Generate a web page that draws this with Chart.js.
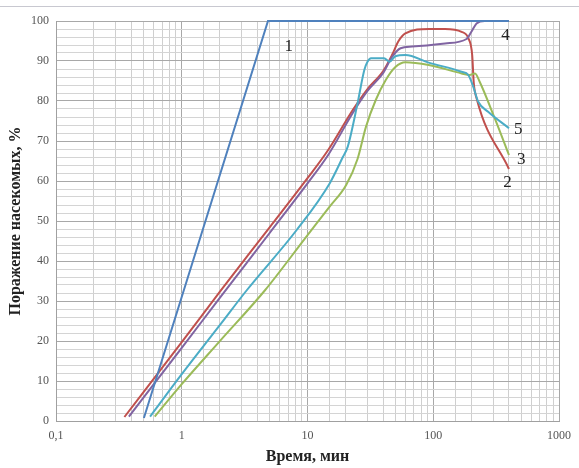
<!DOCTYPE html>
<html>
<head>
<meta charset="utf-8">
<script src="https://cdn.jsdelivr.net/npm/chart.js@4.4.0/dist/chart.umd.min.js"></script>
<style>
  body { margin: 0; background: #fff; }
  #wrap { position: relative; width: 579px; height: 468px; }
  #topline { position: absolute; left: 0; top: 6px; width: 579px; border-top: 1px solid #c8c8d0; }
</style>
</head>
<body>
<div id="wrap">
  <div id="topline"></div>
  <canvas id="chart" width="579" height="468"></canvas>
</div>
<script>
// time, min (log axis) and insect damage, %
const t1 = [0.5, 4.85, 400];
const v1 = [0.75, 100, 100];

const t2 = [0.35, 1, 2.04, 5, 10, 14.6, 22.9, 30, 40, 47, 53, 60, 92, 124, 168, 190, 204, 210, 221, 400];
const v2 = [1, 19.7, 32.6, 48.4, 60.7, 67.75, 77.75, 83, 87.5, 91.5, 95, 96.9, 98, 98, 97.3, 95.7, 91.5, 84.5, 80.7, 63];

const t3 = [0.61, 1, 2, 4.61, 9.8, 15, 20.3, 25, 29.2, 34.9, 41.9, 50, 60, 92, 168, 195, 215, 234, 308, 400];
const v3 = [1.1, 9.2, 19.9, 32.75, 46.1, 53.6, 59, 65.5, 73.6, 80.25, 85.25, 88.5, 89.7, 89, 86.9, 86.5, 86.9, 84.8, 75.7, 66.5];

const t4 = [0.38, 1, 2, 5, 10, 14.6, 22.9, 30, 40, 47, 55, 68, 124, 184, 201, 221, 257, 400];
const v4 = [1.1, 18.3, 30.7, 47, 59.4, 66.5, 77, 82.5, 87, 91, 93.2, 93.6, 94.4, 95.5, 97.3, 99.4, 100, 100];

const t5 = [0.56, 1, 2, 3.3, 8.2, 15, 19.1, 20.9, 25, 28.3, 30, 32, 40.6, 45, 50, 60, 92, 168, 190, 208, 228, 273, 400];
const v5 = [1.1, 11.7, 23.9, 32.75, 47.75, 59.4, 66, 68.6, 79.4, 87.75, 89.8, 90.7, 90.7, 89.8, 91.2, 91.5, 89.6, 87.3, 86.5, 83.6, 79.8, 77.3, 73.2];

// curve numbers, placed in data units near the line ends
const labelText = ['1', '2', '3', '4', '5'];
const labelX = [7.1, 390, 502, 376, 475];
const labelY = [93.5, 59.5, 65.25, 96.25, 72.75];

const colors = ['#4F81BD', '#C0504D', '#9BBB59', '#8064A2', '#4BACC6'];

function pts(xs, ys) {
    return xs.map((x, i) => ({ x: x, y: ys[i] }));
}

const series = [[t1, v1], [t2, v2], [t3, v3], [t4, v4], [t5, v5]];
// draw order: 1, 5, 3, 4, 2 (red on top)
const order = [0, 4, 2, 3, 1];

const datasets = order.map(i => ({
    label: labelText[i],
    data: pts(series[i][0], series[i][1]),
    borderColor: colors[i],
    borderWidth: 2,
    pointRadius: 0,
    fill: false,
    clip: 4,
    tension: i === 0 ? 0 : 0.4,
    cubicInterpolationMode: i === 0 ? 'default' : 'monotone'
}));

function isPow10(v) {
    const l = Math.log10(v);
    return Math.abs(l - Math.round(l)) < 1e-9;
}

const curveLabels = {
    id: 'curveLabels',
    afterDatasetsDraw(chart) {
        const ctx = chart.ctx;
        const xs = chart.scales.x, ys = chart.scales.y;
        ctx.save();
        ctx.font = '17px "Liberation Serif", serif';
        ctx.fillStyle = '#222';
        ctx.textAlign = 'center';
        ctx.textBaseline = 'middle';
        labelText.forEach((txt, i) => {
            ctx.fillText(txt, xs.getPixelForValue(labelX[i]), ys.getPixelForValue(labelY[i]));
        });
        ctx.restore();
    }
};

const tickFont = { family: '"Liberation Serif", serif', size: 12 };
const titleFont = { family: '"Liberation Serif", serif', size: 16, weight: 'bold' };

new Chart(document.getElementById('chart').getContext('2d'), {
    type: 'line',
    data: { datasets },
    options: {
        responsive: false,
        animation: false,
        layout: { padding: { top: 21, right: 14, left: 0, bottom: 0 } },
        plugins: { legend: { display: false }, tooltip: { enabled: false } },
        scales: {
            x: {
                type: 'logarithmic',
                min: 0.1,
                max: 1000,
                afterFit: s => { s.height = 47; },
                grid: {
                    drawTicks: false,
                    color: c => isPow10(c.tick.value) ? '#a8a8a8' : '#cfcfcf',
                    lineWidth: 1
                },
                border: { color: '#a0a0a0' },
                ticks: {
                    autoSkip: false,
                    maxRotation: 0,
                    padding: 8,
                    color: '#555',
                    font: tickFont,
                    callback: v => isPow10(v) ? (v < 1 ? '0,1' : String(Math.round(v))) : ''
                },
                title: {
                    display: true,
                    text: 'Время, мин',
                    color: '#222',
                    font: titleFont,
                    padding: { top: 0, bottom: 2 }
                }
            },
            y: {
                min: 0,
                max: 100,
                afterFit: s => { s.width = 56; },
                grid: {
                    drawTicks: false,
                    color: c => c.tick.value % 10 === 0 ? '#a8a8a8' : '#d4d4d4',
                    lineWidth: 1
                },
                border: { color: '#a0a0a0' },
                ticks: {
                    stepSize: 2,
                    autoSkip: false,
                    padding: 7,
                    color: '#555',
                    font: tickFont,
                    callback: v => v % 10 === 0 ? String(v) : ''
                },
                title: {
                    display: true,
                    text: 'Поражение насекомых, %',
                    color: '#222',
                    font: titleFont,
                    padding: { top: 6, bottom: 0 }
                }
            }
        }
    },
    plugins: [curveLabels]
});
</script>
</body>
</html>
